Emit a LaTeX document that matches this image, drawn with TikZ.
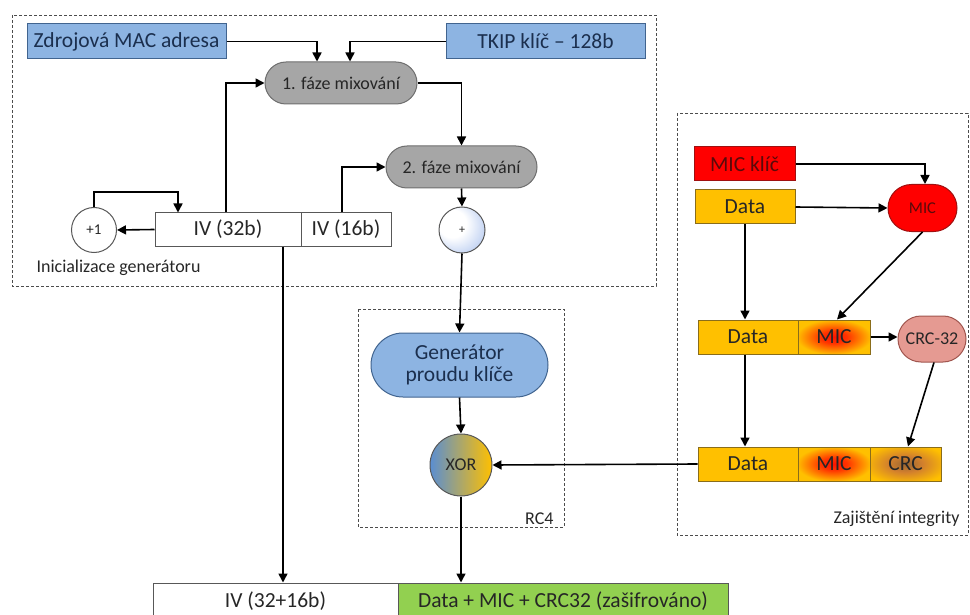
\documentclass[tikz,border=0pt]{standalone}
\usepackage{fontspec}
\setmainfont{Carlito}
\usetikzlibrary{shapes.misc,arrows.meta,calc}
\definecolor{bluefill}{HTML}{8DB4E2}
\definecolor{blueline}{HTML}{41648F}
\definecolor{navytext}{HTML}{1B2F4E}
\definecolor{grayfill}{HTML}{A6A6A6}
\definecolor{grayline}{HTML}{6E6E6E}
\definecolor{goldfill}{HTML}{FFC000}
\definecolor{goldline}{HTML}{8A6D1A}
\definecolor{redfill}{HTML}{FF0000}
\definecolor{redline}{HTML}{A01010}
\definecolor{redtext}{HTML}{5A0A0A}
\definecolor{salmon}{HTML}{E59A92}
\definecolor{salmonline}{HTML}{A0554E}
\definecolor{greenfill}{HTML}{92D050}
\definecolor{xorblue}{HTML}{5A8ED2}
\definecolor{txt}{HTML}{262626}
\pgfdeclareradialshading{micshade}{\pgfpoint{0bp}{0bp}}{color(0bp)=(red!85!orange); color(9bp)=(red!60!orange); color(26bp)=(goldfill); color(50bp)=(goldfill)}
\pgfdeclareradialshading{crcshade}{\pgfpoint{0bp}{0bp}}{color(0bp)=(brown!80!black); color(12bp)=(brown!70!orange); color(30bp)=(goldfill); color(50bp)=(goldfill)}
\pgfdeclareradialshading{plusshade}{\pgfpoint{-15bp}{10bp}}{color(0bp)=(white); color(15bp)=(white); color(50bp)=(bluefill!90!blue)}
\begin{document}
\begin{tikzpicture}[x=1pt,y=-1pt,
  big/.style={font=\fontsize{21.5}{24}\selectfont},
  mid/.style={font=\fontsize{18}{21}\selectfont},
  sml/.style={font=\fontsize{15}{18}\selectfont},
  arr/.style={line width=1.6pt,-{Triangle[length=9pt,width=9pt]}},
  grp/.style={draw=gray!60!black,dash pattern=on 3pt off 2pt,line width=0.8pt},
  bluebox/.style={draw=blueline,line width=1pt,fill=bluefill,text=navytext,inner sep=0pt,big},
  graypill/.style={rounded rectangle,draw=grayline,line width=1pt,fill=grayfill,text=txt,inner sep=0pt,mid},
  whitebox/.style={draw=grayline!80!black,line width=1pt,fill=white,text=txt,inner sep=0pt,big},
  goldbox/.style={draw=goldline,line width=1pt,fill=goldfill,text=txt,inner sep=0pt,big},
  ring/.style={circle,draw=grayline!80!black,line width=1pt,inner sep=0pt,text=txt}
]
\useasboundingbox (0,0) rectangle (970,615);
\clip (0,0) rectangle (970,615);

% group frames
\draw[grp] (12,15) rectangle (656,286);
\draw[grp] (358,309) rectangle (564,527);
\draw[grp] (677,113) rectangle (968,535);
\node[mid,text=txt,anchor=west] (lblinit) at (33,268) {Inicializace generátoru};
\node[mid,text=txt,anchor=east] (lblrc) at (557,519) {RC4};
\node[mid,text=txt,anchor=east] (lblint) at (963,519) {Zajištění integrity};

% top part
\node[bluebox,minimum width=199,minimum height=35] (mac) at (126.5,41.5) {Zdrojová MAC adresa};
\node[bluebox,minimum width=199,minimum height=35] (tkip) at (545.5,41.5) {TKIP klíč – 128b};
\node[graypill,minimum width=152,minimum height=42] (mix1) at (341,83) {1. fáze mixování};
\node[graypill,minimum width=151,minimum height=42] (mix2) at (461.5,167) {2. fáze mixování};
\node[whitebox,minimum width=146,minimum height=33] (iv32) at (228,229.5) {IV (32b)};
\node[whitebox,minimum width=90,minimum height=33] (iv16) at (346,229.5) {IV (16b)};
\node[ring,minimum size=45,fill=white,sml] (inc) at (94,230) {+1};
\node[ring,minimum size=46,shading=plusshade,font=\fontsize{12}{14}\selectfont] (plus) at (462,230) {+};

% RC4
\node[rounded rectangle,draw=blueline,line width=1pt,fill=bluefill,text=navytext,big,align=center,minimum width=177,minimum height=64,inner sep=0pt] (gen) at (459.5,365) {Generátor\\[-2pt]proudu klíče};
\node[ring,minimum size=62,left color=xorblue,right color=goldfill,mid] (xor) at (461,465) {XOR};

% integrity
\node[draw=redline,line width=1pt,fill=redfill,text=redtext,inner sep=0pt,big,minimum width=101,minimum height=34] (mickey) at (744.5,164) {MIC klíč};
\node[goldbox,minimum width=100,minimum height=34] (data1) at (745,207) {Data};
\node[rounded rectangle,draw=redline,line width=1pt,fill=redfill,text=redtext,font=\fontsize{16.5}{19}\selectfont,minimum width=69,minimum height=47,inner sep=0pt] (micov) at (922.5,208) {MIC};
\node[goldbox,minimum width=100,minimum height=34] (data2) at (748,337) {Data};
\node[draw=goldline,line width=1pt,shading=micshade,text=txt,inner sep=0pt,big,minimum width=72,minimum height=34] (mic2) at (834,337) {MIC};
\node[rounded rectangle,draw=salmonline,line width=1pt,fill=salmon,text=txt,mid,minimum width=68,minimum height=46,inner sep=0pt] (crc32) at (932,339) {CRC-32};
\node[goldbox,minimum width=100,minimum height=34] (data3) at (748,464) {Data};
\node[draw=goldline,line width=1pt,shading=micshade,text=txt,inner sep=0pt,big,minimum width=72,minimum height=34] (mic3) at (834,464) {MIC};
\node[draw=goldline,line width=1pt,shading=crcshade,text=txt,inner sep=0pt,big,minimum width=71,minimum height=34] (crc3) at (905.5,464) {CRC};

% output
\node[whitebox,minimum width=245,minimum height=36] (outiv) at (275.5,601) {IV (32+16b)};
\node[draw=grayline!80!black,line width=1pt,fill=greenfill,text=txt,inner sep=0pt,big,minimum width=330,minimum height=36] (outdata) at (563,601) {Data + MIC + CRC32 (zašifrováno)};

% connectors
\draw[arr] (mac.east) -| ([xshift=-24pt]mix1.north);
\draw[arr] (tkip.west) -| ([xshift=9pt]mix1.north);
\draw[arr] (mix1.east) -| (mix2.north);
\draw[arr] ([xshift=-2pt]iv32.north) |- (mix1.west);
\draw[arr] ([xshift=-4pt]iv16.north) |- (mix2.west);
\draw[arr] (iv32.west) -- (inc.east);
\draw[arr] (inc.north) -- ++(0,-15) -| ([xshift=-50pt]iv32.north);
\draw[arr] (mix2.south) -- (plus.north);
\draw[arr] (plus.south) -- (gen.north);
\draw[arr] (gen.south) -- (xor.north);
\draw[arr] (xor.south) -- (xor.south |- outdata.north);
\draw[arr] ([xshift=55pt]iv32.south) -- ([xshift=55pt]iv32.south |- outiv.north);

\draw[arr] (mickey.east) -| ([xshift=2.5pt]micov.north);
\draw[arr] (data1.east) -- (micov.west);
\draw[arr] (data1.south) -- (data1.south |- data2.north);
\draw[arr] (micov.south) -- ([xshift=3pt]mic2.north);
\draw[arr] (mic2.east) -- (mic2.east -| crc32.west);
\draw[arr] ([xshift=-3pt]data2.south) -- ([xshift=-3pt]data3.north);
\draw[arr] ([xshift=2pt]crc32.south) -- ([xshift=2.5pt]crc3.north);
\draw[arr] (data3.west) -- (xor.east);
\end{tikzpicture}
\end{document}
